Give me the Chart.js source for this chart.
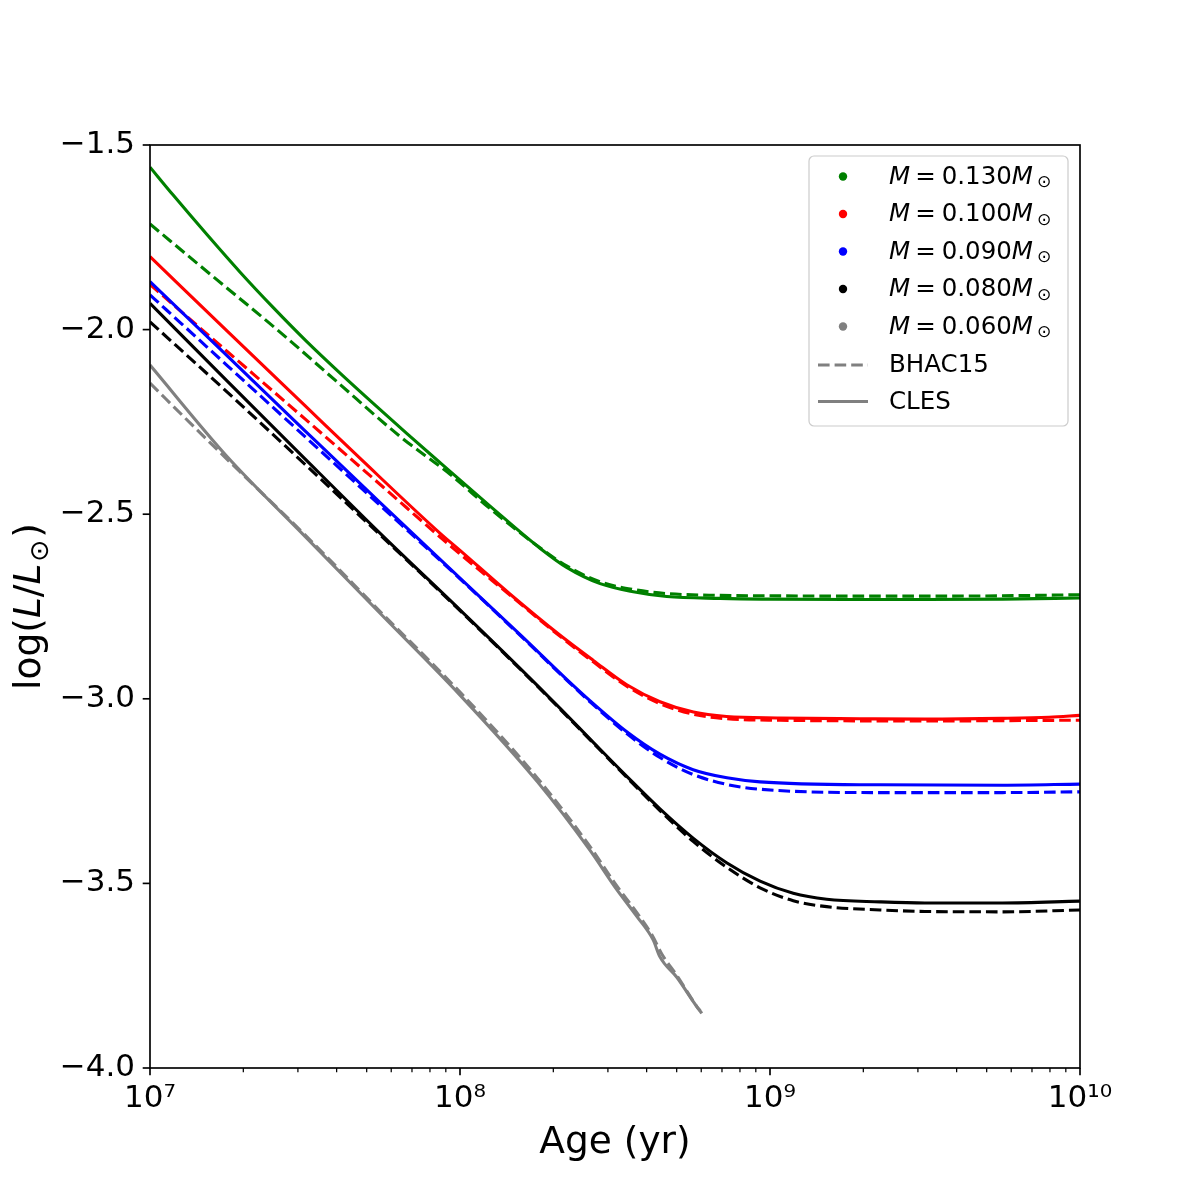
<!DOCTYPE html>
<html><head><meta charset="utf-8">
<script src="https://cdn.jsdelivr.net/npm/chart.js@4.4.1/dist/chart.umd.min.js"></script>
<style>html,body{margin:0;padding:0;background:#fff}</style>
</head><body>
<canvas id="c" width="1200" height="1200"></canvas>
<script>
// ---------------- data (log10 age [yr], log L/Lsun) ----------------
const massLabels = ['0.130', '0.100', '0.090', '0.080', '0.060'];
const massColors = ['#008000', '#ff0000', '#0000ff', '#000000', '#808080'];

const logAgeGreenCLES = [7.0,7.074,7.183,7.29,7.397,7.505,7.613,7.72,7.828,7.935,8.097,8.258,8.344,8.452,8.559,8.667,8.839,9.0,9.25,9.5,9.75,10.0];
const logLGreenCLES   = [-1.560,-1.635,-1.742,-1.844,-1.940,-2.032,-2.118,-2.200,-2.281,-2.360,-2.478,-2.592,-2.644,-2.688,-2.710,-2.723,-2.728,-2.730,-2.731,-2.731,-2.730,-2.727];
const logAgeGreenBHAC = [7.0,7.2,7.41,7.6,7.806,7.968,8.1,8.258,8.344,8.452,8.559,8.667,8.839,9.0,9.25,9.5,9.75,10.0];
const logLGreenBHAC   = [-1.714,-1.854,-2.0,-2.139,-2.289,-2.392,-2.487,-2.591,-2.640,-2.683,-2.704,-2.715,-2.720,-2.721,-2.722,-2.722,-2.721,-2.718];

const logAgeRedCLES = [7.0,7.25,7.5,7.683,7.935,8.0,8.161,8.323,8.43,8.538,8.645,8.753,8.86,9.032,9.29,9.5,9.75,9.9,10.0];
const logLRedCLES   = [-1.802,-2.005,-2.206,-2.353,-2.551,-2.598,-2.716,-2.828,-2.896,-2.962,-3.008,-3.036,-3.048,-3.052,-3.054,-3.055,-3.053,-3.050,-3.045];
const logAgeRedBHAC = [7.0,7.25,7.5,7.75,7.968,8.161,8.323,8.43,8.538,8.645,8.753,8.86,9.032,9.5,10.0];
const logLRedBHAC   = [-1.878,-2.060,-2.242,-2.425,-2.585,-2.719,-2.831,-2.900,-2.966,-3.013,-3.042,-3.054,-3.058,-3.060,-3.058];

const logAgeBlueCLES = [7.0,7.25,7.5,7.75,8.0,8.2,8.345,8.419,8.539,8.645,8.752,8.861,8.968,9.355,9.75,10.0];
const logLBlueCLES   = [-1.870,-2.072,-2.274,-2.475,-2.673,-2.831,-2.948,-3.005,-3.090,-3.150,-3.192,-3.214,-3.225,-3.233,-3.234,-3.231];
const logAgeBlueBHAC = [7.0,7.25,7.5,7.75,8.0,8.2,8.345,8.419,8.539,8.645,8.752,8.861,8.968,9.355,9.75,10.0];
const logLBlueBHAC   = [-1.906,-2.098,-2.290,-2.482,-2.675,-2.833,-2.950,-3.008,-3.095,-3.159,-3.205,-3.232,-3.245,-3.254,-3.254,-3.252];

const logAgeBlackCLES = [7.0,7.25,7.5,7.75,8.0,8.215,8.323,8.43,8.538,8.645,8.753,8.86,8.968,9.075,9.183,9.355,9.5,9.75,10.0];
const logLBlackCLES   = [-1.929,-2.140,-2.350,-2.558,-2.759,-2.935,-3.026,-3.118,-3.210,-3.298,-3.378,-3.444,-3.494,-3.527,-3.543,-3.550,-3.553,-3.553,-3.548];
const logAgeBlackBHAC = [7.0,7.25,7.5,7.75,8.0,8.215,8.323,8.43,8.538,8.645,8.753,8.86,8.968,9.075,9.183,9.355,9.5,9.75,10.0];
const logLBlackBHAC   = [-1.979,-2.170,-2.365,-2.562,-2.761,-2.937,-3.028,-3.120,-3.213,-3.303,-3.387,-3.456,-3.512,-3.547,-3.563,-3.572,-3.576,-3.577,-3.572];

const logAgeGrayCLES = [7.0,7.25,7.5,7.75,8.0,8.25,8.419,8.5,8.571,8.623,8.645,8.7,8.765,8.775];
const logLGrayCLES   = [-2.096,-2.345,-2.560,-2.775,-2.990,-3.225,-3.410,-3.510,-3.590,-3.653,-3.699,-3.755,-3.835,-3.845];
const logAgeGrayBHAC = [7.0,7.15,7.29,7.5,7.75,8.0,8.25,8.419,8.5,8.571,8.623,8.65,8.7,8.765,8.78];
const logLGrayBHAC   = [-2.145,-2.270,-2.385,-2.556,-2.770,-2.982,-3.215,-3.400,-3.500,-3.580,-3.645,-3.690,-3.750,-3.835,-3.852];

const xTickDecades = [7, 8, 9, 10];
const yTickValues = [-4.0, -3.5, -3.0, -2.5, -2.0, -1.5];
const modelNames = ['BHAC15', 'CLES'];

// ---------------- build datasets ----------------
function pts(ages, vals) { return ages.map((a, i) => ({ x: Math.pow(10, a), y: vals[i] })); }
const series = [
  [logAgeGreenBHAC, logLGreenBHAC, logAgeGreenCLES, logLGreenCLES],
  [logAgeRedBHAC, logLRedBHAC, logAgeRedCLES, logLRedCLES],
  [logAgeBlueBHAC, logLBlueBHAC, logAgeBlueCLES, logLBlueCLES],
  [logAgeBlackBHAC, logLBlackBHAC, logAgeBlackCLES, logLBlackCLES],
  [logAgeGrayBHAC, logLGrayBHAC, logAgeGrayCLES, logLGrayCLES]
];
const datasets = [];
series.forEach((s, i) => {
  datasets.push({ label: 'M=' + massLabels[i] + ' ' + modelNames[0], data: pts(s[0], s[1]), borderColor: massColors[i],
    borderWidth: 3.1, borderDash: [11.6, 5], pointRadius: 0, fill: false, cubicInterpolationMode: 'monotone', order: 10 - 2 * i });
  datasets.push({ label: 'M=' + massLabels[i] + ' ' + modelNames[1], data: pts(s[2], s[3]), borderColor: massColors[i],
    borderWidth: 3.1, pointRadius: 0, fill: false, cubicInterpolationMode: 'monotone', order: 9 - 2 * i });
});

const SUP = { '0': '⁰', '1': '¹', '2': '²', '3': '³', '4': '⁴', '5': '⁵', '6': '⁶', '7': '⁷', '8': '⁸', '9': '⁹' };
const FONT = '"DejaVu Sans", "Liberation Sans", sans-serif';

function drawRich(ctx, parts, x, y, size) {
  let cx = x;
  parts.forEach(p => {
    const fs = p.sub ? size * 0.7 : size;
    ctx.font = (p.it ? 'oblique ' : '') + fs + 'px ' + FONT;
    const dy = p.sub ? size * 0.22 : 0;
    if (p.gap) cx += p.gap;
    ctx.fillText(p.t, cx, y + dy);
    cx += ctx.measureText(p.t).width;
  });
  return cx - x;
}
function richWidth(ctx, parts, size) {
  let w = 0;
  parts.forEach(p => {
    const fs = p.sub ? size * 0.7 : size;
    ctx.font = (p.it ? 'oblique ' : '') + fs + 'px ' + FONT;
    w += ctx.measureText(p.t).width + (p.gap || 0);
  });
  return w;
}

const decor = {
  id: 'decor',
  afterDraw(chart) {
    const { ctx, chartArea: a, scales: { x, y } } = chart;
    ctx.save();
    ctx.strokeStyle = '#000';
    ctx.fillStyle = '#000';
    // x ticks (major + minor), outward
    xTickDecades.forEach(d => {
      for (let m = 1; m <= 9; m++) {
        if (d === 10 && m > 1) break;
        const px = x.getPixelForValue(m * Math.pow(10, d));
        const major = m === 1;
        ctx.lineWidth = major ? 1.67 : 1.25;
        ctx.beginPath();
        ctx.moveTo(px, a.bottom);
        ctx.lineTo(px, a.bottom + (major ? 7.3 : 4.2));
        ctx.stroke();
      }
    });
    // y ticks
    yTickValues.forEach(v => {
      const py = y.getPixelForValue(v);
      ctx.lineWidth = 1.67;
      ctx.beginPath();
      ctx.moveTo(a.left, py);
      ctx.lineTo(a.left - 7.3, py);
      ctx.stroke();
    });
    // spines
    ctx.lineWidth = 1.67;
    ctx.strokeRect(a.left, a.top, a.right - a.left, a.bottom - a.top);

    // y axis label: log(L/L_sun)
    const ylab = [{ t: 'log(' }, { t: 'L', it: true }, { t: '/' }, { t: 'L', it: true }, { t: '⊙', sub: true, gap: 2 }, { t: ')', gap: 2 }];
    const ys = 37.5;
    const yw = richWidth(ctx, ylab, ys);
    ctx.save();
    ctx.translate(40, (a.top + a.bottom) / 2);
    ctx.rotate(-Math.PI / 2);
    ctx.textBaseline = 'alphabetic';
    ctx.textAlign = 'left';
    drawRich(ctx, ylab, -yw / 2, 0, ys);
    ctx.restore();

    // legend
    const lx = 809, ly = 156, lw = 259, lh = 270;
    ctx.beginPath();
    ctx.roundRect(lx, ly, lw, lh, 5);
    ctx.fillStyle = 'rgba(255,255,255,0.8)';
    ctx.fill();
    ctx.strokeStyle = '#cccccc';
    ctx.lineWidth = 1.2;
    ctx.stroke();
    const ls = 24.5;
    const rowY = i => 176.5 + i * 37.5;
    ctx.textBaseline = 'middle';
    ctx.textAlign = 'left';
    massLabels.forEach((m, i) => {
      const yy = rowY(i);
      ctx.fillStyle = massColors[i];
      ctx.beginPath();
      ctx.arc(843, yy, 4.2, 0, Math.PI * 2);
      ctx.fill();
      ctx.fillStyle = '#000';
      drawRich(ctx, [{ t: 'M', it: true }, { t: '=', gap: 5 }, { t: m, gap: 6 }, { t: 'M', it: true }, { t: '⊙', sub: true, gap: 4 }], 889, yy + 1, ls);
    });
    // model entries
    ctx.strokeStyle = '#808080';
    ctx.lineWidth = 3.1;
    const yB = rowY(5) + 1, yC = 401.5;
    ctx.setLineDash([11.6, 5]);
    ctx.beginPath(); ctx.moveTo(818, yB); ctx.lineTo(868, yB); ctx.stroke();
    ctx.setLineDash([]);
    ctx.beginPath(); ctx.moveTo(818, yC); ctx.lineTo(868, yC); ctx.stroke();
    ctx.fillStyle = '#000';
    ctx.font = ls + 'px ' + FONT;
    ctx.fillText(modelNames[0], 889, yB + 1);
    ctx.fillText(modelNames[1], 889, yC + 1);
    ctx.restore();
  }
};

new Chart(document.getElementById('c'), {
  type: 'line',
  data: { datasets },
  options: {
    responsive: false,
    devicePixelRatio: 1,
    animation: false,
    parsing: false,
    layout: { padding: { top: 145, right: 120, left: 0, bottom: 30 } },
    plugins: { legend: { display: false }, tooltip: { enabled: false } },
    scales: {
      x: {
        type: 'logarithmic',
        min: 1e7, max: 1e10,
        afterFit: s => { s.height = 102; },
        afterBuildTicks: s => { s.ticks = xTickDecades.map(d => ({ value: Math.pow(10, d) })); },
        grid: { display: false, drawTicks: false },
        border: { display: false },
        ticks: {
          autoSkip: false, maxRotation: 0, minRotation: 0, padding: 12,
          color: '#000', font: { family: FONT, size: 31 },
          callback: v => { const e = Math.round(Math.log10(v)); return '10' + String(e).split('').map(c => SUP[c]).join(''); }
        },
        title: { display: true, text: 'Age (yr)', color: '#000', font: { family: FONT, size: 37.5 }, padding: { top: 6 } }
      },
      y: {
        type: 'linear',
        min: -4.0, max: -1.5,
        afterFit: s => { s.width = 150; },
        afterBuildTicks: s => { s.ticks = yTickValues.map(v => ({ value: v })); },
        grid: { display: false, drawTicks: false },
        border: { display: false },
        ticks: {
          padding: 15, color: '#000', font: { family: FONT, size: 31 },
          callback: v => v.toFixed(1).replace('-', '\u2212')
        }
      }
    }
  },
  plugins: [decor]
});
</script>
</body></html>
